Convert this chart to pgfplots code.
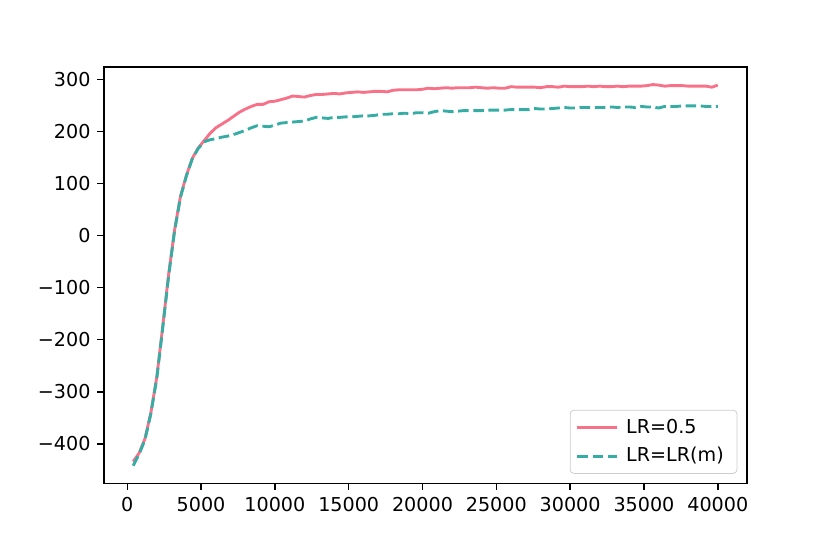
\documentclass[border=0pt]{standalone}
\usepackage{pgfplots}
\pgfplotsset{compat=1.18}
\usepackage{pgfplotstable}
\usepackage{fontspec}
\setmainfont{DejaVu Sans}
\definecolor{cred}{HTML}{F77189}
\definecolor{cteal}{HTML}{36ADA4}
\pgfplotstableread{
x y
400 -434
800 -418
1200 -390
1600 -340
2000 -272
2400 -175
2800 -75
3200 10
3600 75
4000 115
4400 148
4800 168
5200 182
5600 196
6000 207
6400 214
6800 221
7200 229
7600 237
8000 243
8400 248
8800 252
9200 252
9600 257
10000 258
10400 261
10800 264
11200 268
11600 267
12000 266
12400 269
12800 271
13200 271
13600 272
14000 273
14400 272
14800 274
15200 275
15600 276
16000 275
16400 276
16800 277
17200 277
17600 276
18000 279
18400 280
18800 280
19200 280
19600 280
20000 281
20400 283
20800 282
21200 283
21600 284
22000 283
22400 284
22800 284
23200 284
23600 285
24000 284
24400 283
24800 284
25200 283
25600 283
26000 286
26400 285
26800 285
27200 285
27600 285
28000 284
28400 286
28800 286
29200 285
29600 287
30000 286
30400 286
30800 286
31200 287
31600 286
32000 287
32400 286
32800 286
33200 287
33600 286
34000 287
34400 287
34800 287
35200 288
35600 290
36000 289
36400 287
36800 288
37200 288
37600 288
38000 287
38400 287
38800 287
39200 287
39600 285
40000 289
}\dataA
\pgfplotstableread{
x y
400 -442
800 -420
1200 -392
1600 -342
2000 -274
2400 -178
2800 -78
3200 8
3600 73
4000 114
4400 147
4800 167
5200 180
5600 184
6000 186
6400 189
6800 191
7200 194
7600 198
8000 202
8400 207
8800 211
9200 210
9600 209
10000 212
10400 216
10800 217
11200 218
11600 219
12000 220
12400 224
12800 227
13200 226
13600 225
14000 227
14400 227
14800 228
15200 228
15600 229
16000 230
16400 230
16800 231
17200 233
17600 233
18000 234
18400 234
18800 235
19200 234
19600 236
20000 236
20400 235
20800 238
21200 240
21600 239
22000 238
22400 239
22800 240
23200 240
23600 240
24000 240
24400 241
24800 241
25200 241
25600 241
26000 242
26400 242
26800 242
27200 242
27600 244
28000 243
28400 243
28800 244
29200 245
29600 246
30000 245
30400 245
30800 246
31200 246
31600 246
32000 246
32400 246
32800 247
33200 246
33600 247
34000 247
34400 246
34800 248
35200 247
35600 247
36000 245
36400 248
36800 248
37200 248
37600 249
38000 249
38400 249
38800 249
39200 248
39600 248
40000 248
}\dataB
\begin{document}
\begin{tikzpicture}
\useasboundingbox (0,0) rectangle (432bp,288bp);
\begin{axis}[
  at={(54.1bp,36.4bp)}, anchor=south west,
  scale only axis, width=334.7bp, height=216.8bp,
  xmin=-1580, xmax=41980, ymin=-476, ymax=324,
  axis line style={line width=0.8pt},
  tick style={line width=0.8pt, black},
  major tick length=3.5pt,
  tick align=outside, xtick pos=bottom, ytick pos=left,
  xtick={0,5000,10000,15000,20000,25000,30000,35000,40000},
  xticklabels={0,5000,10000,15000,20000,25000,30000,35000,40000},
  ytick={-400,-300,-200,-100,0,100,200,300},
  yticklabels={−400,−300,−200,−100,0,100,200,300},
  tick label style={font=\fontsize{10}{12}\selectfont},
  scaled ticks=false,
  legend style={at={(rel axis cs:1,0)}, anchor=south east, xshift=-5bp, yshift=5bp,
    draw=black!20, rounded corners=2pt, font=\fontsize{10}{12}\selectfont,
    inner xsep=3pt, inner ysep=2.5pt, row sep=2bp,
    nodes={inner xsep=3.9bp}},
  legend cell align=left,
  legend image code/.code={\draw[line width=1.5pt,#1] (0bp,0bp) -- (20.8bp,0bp);},
]
\addplot[cred, line width=1.5pt, no marks] table[x=x,y=y] {\dataA};
\addlegendentry{LR=0.5}
\addplot[cteal, line width=1.5pt, no marks, dash pattern=on 5.55pt off 2.4pt] table[x=x,y=y] {\dataB};
\addlegendentry{LR=LR(m)}
\end{axis}
\end{tikzpicture}
\end{document}
